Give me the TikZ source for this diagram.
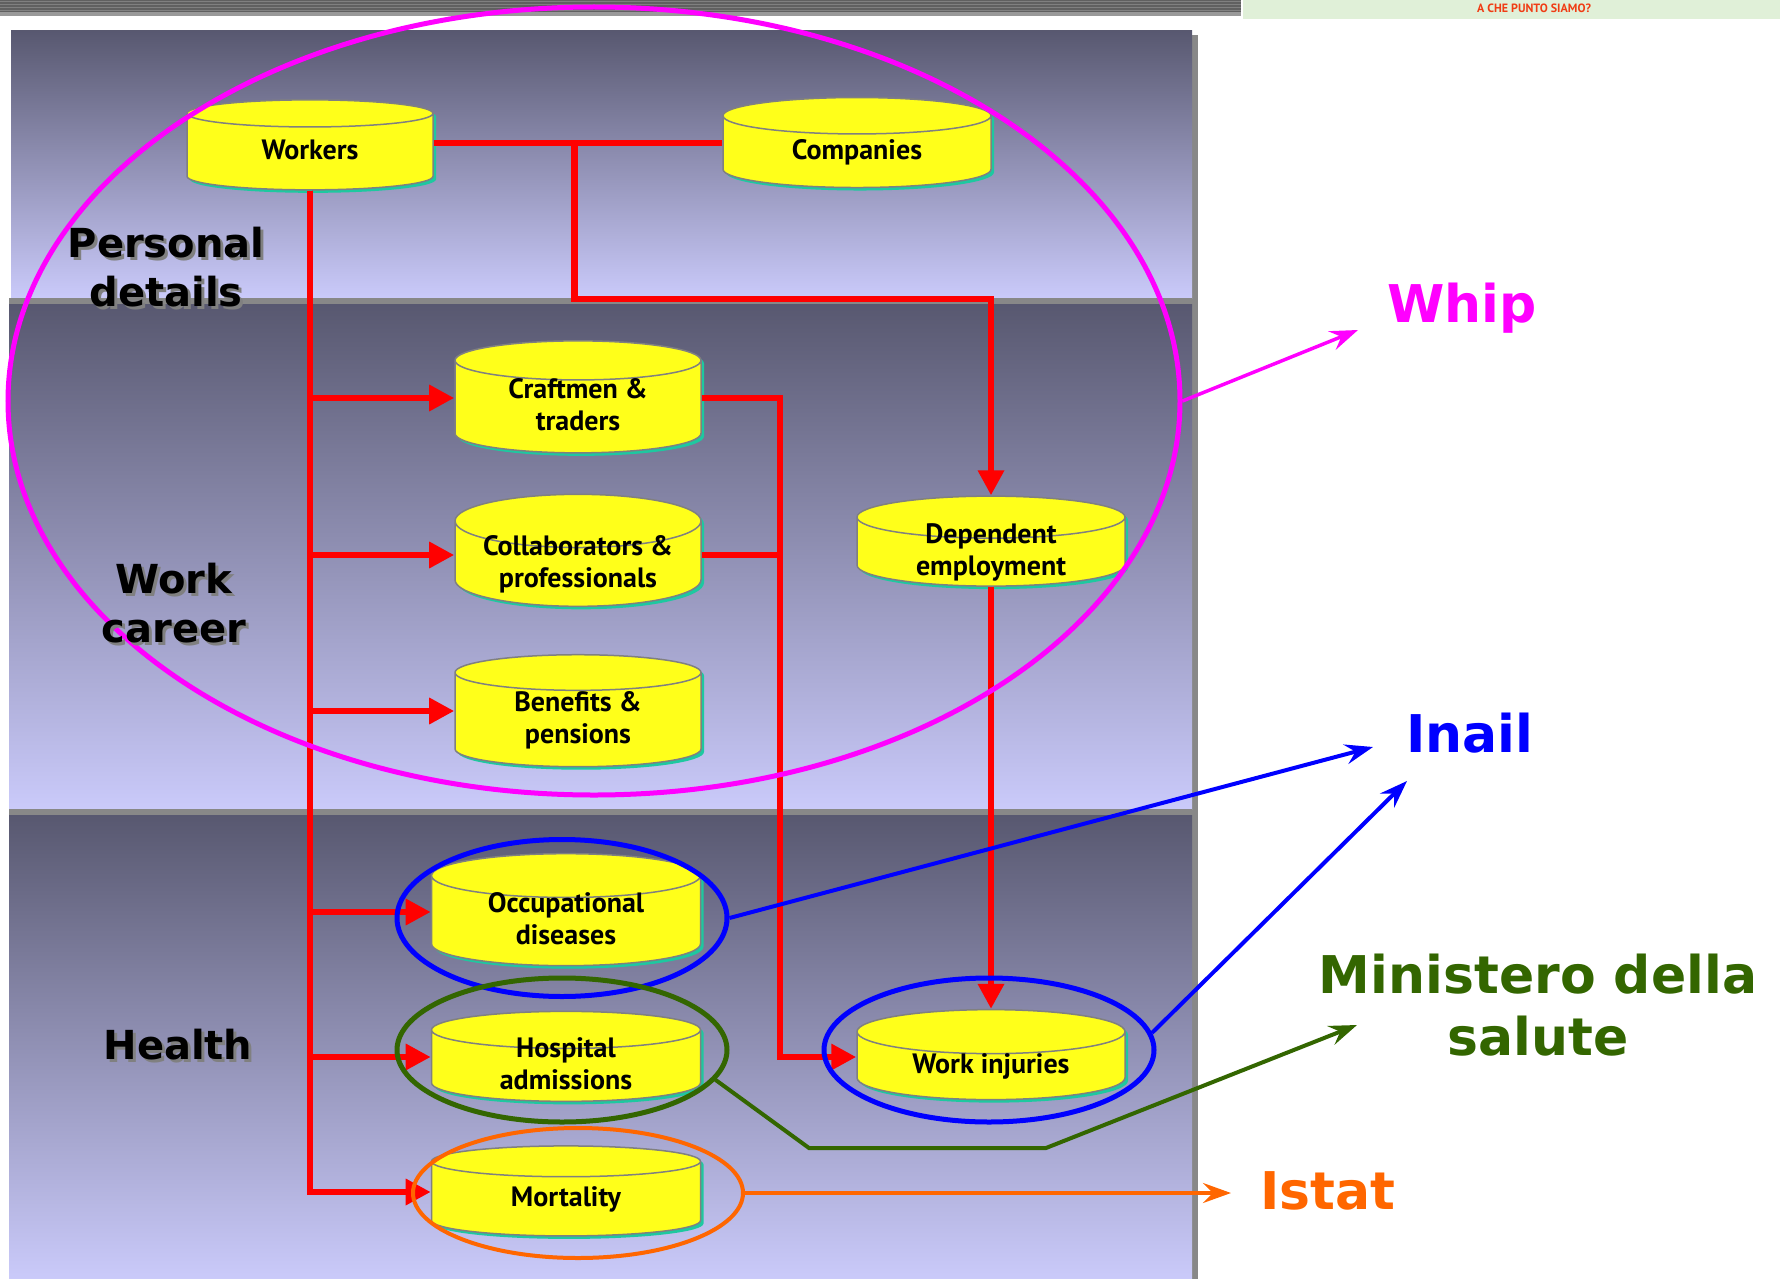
\documentclass[tikz,border=0pt]{standalone}
\usepackage{fontspec}
\setmainfont{DejaVu Sans}
\newfontfamily\dbfont{PT Sans}
\usetikzlibrary{shapes.geometric,arrows.meta,shadows,positioning}

\definecolor{bandtop}{RGB}{88,88,112}
\definecolor{bandbot}{RGB}{202,202,250}
\definecolor{sepgrey}{RGB}{136,136,136}
\definecolor{dbyellow}{RGB}{255,255,26}
\definecolor{dbshade}{RGB}{30,200,160}
\definecolor{whipcol}{RGB}{255,0,255}
\definecolor{inailcol}{RGB}{0,0,255}
\definecolor{salcol}{RGB}{51,102,0}
\definecolor{istatcol}{RGB}{255,102,0}
\definecolor{hdrgreen}{RGB}{224,240,216}
\definecolor{hdrred}{RGB}{240,60,20}

% text sits a little below the middle of the archive
\newcommand\dblabel[1]{\raisebox{-7pt}[0pt][0pt]{\begin{tabular}{@{}c@{}}#1\end{tabular}}}

\tikzset{
  db/.style={cylinder, shape border rotate=90, aspect=0.28, draw=gray, line width=1.5pt,
    fill=dbyellow, minimum width=246pt, minimum height=90pt, inner sep=0pt,
    font=\dbfont\bfseries\fontsize{28}{32}\selectfont,
    drop shadow={fill=dbshade, opacity=1, shadow xshift=3pt, shadow yshift=-3pt}},
  tall/.style={minimum height=112pt},
  flow/.style={draw=red, line width=6.5pt},
  tip/.style={-{Triangle[length=25pt,width=25pt]}},
  ring/.style={ellipse, draw, line width=5pt, inner sep=0pt},
  zone/.style={font=\bfseries\fontsize{40}{49}\selectfont, align=center},
  agency/.style={font=\bfseries\fontsize{52}{62}\selectfont, align=center},
  pointer/.style={line width=4pt, -{Stealth[length=28pt,width=20pt,inset=10pt]}}
}

\begin{document}
\begin{tikzpicture}[x=1pt,y=-1pt]
\useasboundingbox (0,0) rectangle (1780,1279);

% header strip
\fill[gray!75!black] (0,0) rectangle (1241,16);
\foreach \yy in {1,4,7,10}
  \fill[gray] (0,\yy) rectangle (1241,\yy+1.5);
\fill[gray!80] (0,12) rectangle (1241,16);
\fill[hdrgreen] (1243,0) rectangle (1780,19);
\node[font=\dbfont\bfseries\fontsize{12}{14}\selectfont, text=hdrred] (hdr) at (1534,8) {A CHE PUNTO SIAMO?};

% panel
\fill[sepgrey] (1192,35) rectangle (1198,1279);
\shade[top color=bandtop, bottom color=bandbot] (11,31) rectangle (1192,298);
\fill[sepgrey] (9,298) rectangle (1192,304);
\shade[top color=bandtop, bottom color=bandbot] (9,304) rectangle (1192,809);
\fill[sepgrey] (9,809) rectangle (1192,815);
\shade[top color=bandtop, bottom color=bandbot] (9,815) rectangle (1192,1279);

% archives
\node[db] (workers) at (310,152) {\dblabel{Workers}};
\node[db, minimum width=268pt] (companies) at (857,152) {\dblabel{Companies}};
\node[db, tall] (craft) at (578,407) {\dblabel{Craftmen \&\\traders}};
\node[db, tall] (collab) at (578,564) {\dblabel{Collaborators \&\\professionals}};
\node[db, tall] (benefit) at (578,720) {\dblabel{Benefits \&\\pensions}};
\node[db, minimum width=268pt] (dep) at (991,552) {\dblabel{Dependent\\employment}};
\node[db, tall, minimum width=269pt] (occ) at (566,921) {\dblabel{Occupational\\diseases}};
\node[db, minimum width=269pt] (hosp) at (566,1066) {\dblabel{Hospital\\admissions}};
\node[db, minimum width=269pt] (mort) at (566,1199) {\dblabel{Mortality}};
\node[db, minimum width=268pt] (winj) at (991,1066) {\dblabel{Work injuries}};

% links
\draw[flow] ([yshift=9pt]workers.east) -- ([yshift=9pt]companies.west);
\path ([yshift=9pt]workers.east) -- ([yshift=9pt]companies.west) coordinate[pos=0.488] (split);
\draw[flow,tip] (split) -- ++(0,156) -| (dep.north);
\draw[flow,tip] (workers.south) |- ([yshift=7pt]mort.west);
\draw[flow,tip] (workers.south) |- ([yshift=9pt]craft.west);
\draw[flow,tip] (workers.south) |- ([yshift=9pt]collab.west);
\draw[flow,tip] (workers.south) |- ([yshift=9pt]benefit.west);
\draw[flow,tip] (workers.south) |- ([yshift=9pt]occ.west);
\draw[flow,tip] (workers.south) |- ([yshift=9pt]hosp.west);
\draw[flow,tip] ([yshift=9pt]craft.east) -- ++(78,0) |- ([yshift=9pt]winj.west);
\draw[flow] ([yshift=9pt]collab.east) -- ++(78,0);
\draw[flow,tip] (dep.south) -- (winj.north);

% sources
\node[ring, draw=whipcol, minimum width=1172pt, minimum height=788pt] (whipring) at (594,401) {};
\node[ring, draw=inailcol, minimum width=330pt, minimum height=157pt] (occring) at (562,918) {};
\node[ring, draw=salcol, minimum width=330pt, minimum height=144pt] (hospring) at (562,1050) {};
\node[ring, draw=istatcol, line width=4pt, minimum width=330pt, minimum height=130pt] (mortring) at (578,1193) {};
\node[ring, draw=inailcol, minimum width=330pt, minimum height=144pt] (winjring) at (989,1050) {};

\node[agency, text=whipcol] (whip) at (1462,308) {Whip};
\node[agency, text=inailcol] (inail) at (1470,733) {Inail};
\node[agency, text=salcol] (salute) at (1538,1005) {Ministero della\\salute};
\node[agency, text=istatcol] (istat) at (1328,1191) {Istat};

\coordinate (whipend) at (1358,330);
\coordinate (inailendA) at (1373,747);
\coordinate (inailendB) at (1407,781);
\coordinate (salA) at (809,1148);
\coordinate (salB) at (1046,1148);
\coordinate (salend) at (1357,1025);
\coordinate (istatend) at (1231,1193);

\draw[pointer, whipcol, line width=3.5pt] (whipring.east) -- (whipend);
\draw[pointer, inailcol] (occring.east) -- (inailendA);
\draw[pointer, inailcol] (winjring.6) -- (inailendB);
\draw[pointer, salcol] (hospring.349) -- (salA) -- (salB) -- (salend);
\draw[pointer, istatcol, line width=3.5pt] (mortring.east) -- (istatend);

% layers
\node[zone, text=gray] (persshadow) at (169,270) {Personal\\details};
\node[zone] (pers) at (166,267) {Personal\\details};
\node[zone, text=gray] (workshadow) at (177,606) {Work\\career};
\node[zone] (work) at (174,603) {Work\\career};
\node[zone, text=gray] (healthshadow) at (181,1048) {Health};
\node[zone] (health) at (178,1045) {Health};
\end{tikzpicture}
\end{document}
